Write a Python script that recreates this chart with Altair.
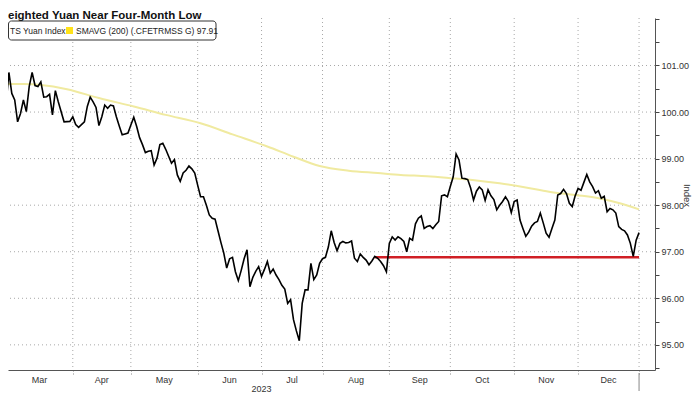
import altair as alt
import pandas as pd

# ---------------- data ----------------
title_text = "eighted Yuan Near Four-Month Low"
legend_line_label = "TS Yuan Index"
legend_sma_label = "SMAVG (200) (.CFETRMSS G) 97.91"

# x = trading-day number (weekdays) counted from 1 Mar 2023
yuan_day = [-2, 0, 1, 2, 3, 4, 5, 6, 7, 8, 9, 10, 11, 12, 13, 14, 15, 16, 17, 18,
            20, 22, 23, 24, 25, 27, 28, 29, 30, 31, 32, 33, 34, 35, 36, 37, 38, 39,
            40, 41, 42, 43, 44, 45, 46, 47, 48, 49, 50, 51, 52, 53, 54, 55, 56, 57,
            58, 59, 60, 61, 62, 63, 64, 65, 66, 67, 68, 69, 70, 71, 72, 73, 74, 75,
            76, 77, 78, 79, 80, 81, 82, 83, 84, 85, 86, 87, 88, 89, 90, 91, 92, 93,
            94, 95, 96, 97, 98, 99, 100, 101, 102, 103, 104, 105, 106, 107, 108,
            109, 110, 111, 112, 113, 114, 115, 116, 117, 118, 119, 120, 121, 122,
            123, 124, 125, 126, 127, 128, 129, 130, 131, 132, 133, 134, 135, 136,
            137, 138, 139, 140, 141, 142, 143, 144, 145, 146, 147, 148, 149, 150,
            151, 152, 153, 154, 155, 156, 157, 158, 159, 160, 161, 162, 163, 164,
            165, 166, 167, 168, 169, 170, 171, 172, 173, 174, 175, 176, 177, 178,
            179, 180, 181, 182, 183, 184, 185, 186, 187, 188, 189, 190, 191, 192,
            193, 194, 195, 196, 197, 198, 199, 200, 201, 202, 203, 204, 205, 206,
            207, 208, 209, 210, 211, 212, 213, 214, 215, 216, 217, 218]
yuan_value = [99.83, 100.15, 100.85, 100.40, 100.26, 99.79, 99.97, 100.26, 100.01, 100.55,
              100.85, 100.57, 100.55, 100.65, 100.32, 100.33, 100.38, 99.94, 100.46, 100.22,
              99.79, 99.80, 99.90, 99.73, 99.67, 99.79, 100.12, 100.32, 100.22, 100.10,
              99.71, 99.90, 100.15, 100.08, 100.15, 100.13, 99.90, 99.70,
              99.51, 99.53, 99.55, 99.72, 99.89, 99.69, 99.45, 99.30, 99.13, 99.16, 99.17,
              98.86, 99.01, 99.30, 99.33, 99.20, 99.05, 98.90,
              98.98, 98.65, 98.51, 98.69, 98.75, 98.84, 98.78, 98.69, 98.43, 98.18, 98.18,
              98.00, 97.79, 97.72, 97.70, 97.45, 97.20, 96.97,
              96.65, 96.85, 96.88, 96.57, 96.38, 96.60, 96.85, 97.04, 96.25, 96.45, 96.58,
              96.68, 96.47, 96.62, 96.79, 96.54, 96.63, 96.50,
              96.40, 96.28, 96.20, 95.89, 95.97, 95.54, 95.30, 95.09, 95.89, 96.18, 96.18,
              96.75, 96.40, 96.50, 96.75,
              96.85, 96.88, 97.10, 97.45, 97.20, 97.02, 97.18, 97.22, 97.19, 97.20, 97.23,
              96.86, 96.79, 96.95,
              96.88, 96.82, 96.72, 96.80, 96.90, 96.86, 96.79, 96.70, 96.57, 97.18, 97.32,
              97.25, 97.32, 97.28,
              97.22, 97.00, 97.29, 97.25, 97.60, 97.72, 97.77, 97.50, 97.54, 97.56, 97.50,
              97.58, 97.65, 98.20,
              98.22, 98.18, 98.40, 98.61, 99.10, 98.97, 98.58, 98.57, 98.55, 98.37, 98.11,
              98.30, 98.39, 98.33,
              98.10, 98.33, 98.20, 98.12, 97.90, 98.00, 98.08, 98.18, 98.08, 97.84, 98.08,
              98.11, 97.68, 97.50,
              97.33, 97.42, 97.55, 97.62, 97.65, 97.83, 97.62, 97.40, 97.31, 97.50, 97.68,
              98.22, 98.25, 98.34,
              98.25, 98.04, 97.97, 98.20, 98.36, 98.32, 98.49, 98.66, 98.50, 98.40, 98.26,
              98.31, 98.15, 98.19,
              97.86, 97.93, 97.90, 97.83, 97.54, 97.48, 97.45, 97.36, 97.18, 96.90, 97.25,
              97.41]

sma_day = [-2, 6, 12, 21, 32, 44, 55, 67, 78, 90, 99, 108, 118, 128, 136, 145, 153,
           162, 170, 179, 187, 196, 205, 212, 218]
sma_value = [100.60, 100.60, 100.58, 100.49, 100.30, 100.12, 99.94, 99.76, 99.52, 99.26,
             99.04, 98.84, 98.74, 98.69, 98.65, 98.62, 98.58, 98.53, 98.47, 98.38, 98.29,
             98.22, 98.14, 98.03, 97.91]

support_day = [127, 218]
support_value = [96.88, 96.88]

month_start_day = [0, 23, 43, 66, 88, 109, 132, 153, 175, 197, 218]
month_labels = ["Mar", "Apr", "May", "Jun", "Jul", "Aug", "Sep", "Oct", "Nov", "Dec"]
year_label = "2023"
year_label_day = 88
year_break_day = 218

y_tick_values = [94.5, 95, 95.5, 96, 96.5, 97, 97.5, 98, 98.5, 99, 99.5, 100, 100.5,
                 101, 101.5, 102]
y_grid_values = [95, 96, 97, 98, 99, 100, 101]

# ---------------- tables ----------------
yuan_df = pd.DataFrame({"day": yuan_day, "value": yuan_value})
sma_df = pd.DataFrame({"day": sma_day, "value": sma_value})
support_df = pd.DataFrame({"day": support_day, "value": support_value})
vgrid_df = pd.DataFrame({"day": month_start_day})
hgrid_df = pd.DataFrame({"value": y_grid_values})
month_df = pd.DataFrame({
    "day": [(a + b) / 2 for a, b in zip(month_start_day[:-1], month_start_day[1:])],
    "label": month_labels,
})
year_df = pd.DataFrame({"day": [year_label_day], "label": [year_label]})
break_df = pd.DataFrame({"day": [year_break_day]})

W, H = 647, 352
FONT = "Liberation Sans"

x_scale = alt.Scale(domain=[0.69, 223.49], nice=False, zero=False)
y_scale = alt.Scale(domain=[94.46, 102.02], nice=False, zero=False)
GRID = "#a8a8a8"

x_axis = alt.Axis(values=month_start_day, labels=False, title=None, grid=False,
                  tickSize=4, tickColor="#888", tickDash=[1, 2],
                  domainColor="#555", domainWidth=1)
y_axis = alt.Axis(orient="right", values=y_tick_values, grid=False,
                  labelExpr="(datum.value == round(datum.value) && datum.value >= 95 && datum.value <= 101) ? format(datum.value, '.2f') : ''",
                  labelFont=FONT, labelFontSize=9, labelColor="#333",
                  tickSize=4, tickColor="#444", labelPadding=2,
                  domainColor="#555", domainWidth=1,
                  title="Index", titleFont=FONT, titleFontSize=9.5,
                  titleFontWeight="normal", titleColor="#333", titleAngle=90,
                  titleX=31, titleY=177, titleAlign="center", titleBaseline="middle")

X = alt.X("day:Q", scale=x_scale, axis=x_axis)
Y = alt.Y("value:Q", scale=y_scale, axis=y_axis)

vgrid = alt.Chart(vgrid_df).mark_rule(color=GRID, strokeDash=[1, 3], strokeWidth=1).encode(x=X)
hgrid = alt.Chart(hgrid_df).mark_rule(color=GRID, strokeDash=[1, 3], strokeWidth=1).encode(y=Y)

sma = alt.Chart(sma_df).mark_line(color="#f0eaa0", strokeWidth=2, clip=True,
                                  interpolate="monotone").encode(x=X, y=Y)
support = alt.Chart(support_df).mark_line(color="#d01f25", strokeWidth=2.5, clip=True).encode(x=X, y=Y)
yuan = alt.Chart(yuan_df).mark_line(color="#000000", strokeWidth=1.6, clip=True).encode(x=X, y=Y)

months = alt.Chart(month_df).mark_text(font=FONT, fontSize=9, color="#333", baseline="middle").encode(
    x=X, y=alt.value(H + 10), text="label:N",
)
year = alt.Chart(year_df).mark_text(font=FONT, fontSize=9, color="#333", baseline="middle").encode(
    x=X, y=alt.value(H + 19), text="label:N",
)
year_break = alt.Chart(break_df).mark_rule(color="#888", strokeWidth=1).encode(
    x=X, y=alt.value(H + 3), y2=alt.value(H + 21),
)

# title and legend box
title = alt.Chart(pd.DataFrame({"t": [title_text]})).mark_text(
    font=FONT, fontSize=11.5, fontWeight="bold", color="#111", align="left", baseline="alphabetic"
).encode(x=alt.value(0), y=alt.value(0.5), text="t:N")

legend_box = alt.Chart(pd.DataFrame({"a": [0]})).mark_rect(
    fill="white", stroke="#333", strokeWidth=1, cornerRadius=3
).encode(x=alt.value(0.5), x2=alt.value(208), y=alt.value(3), y2=alt.value(22))

legend_sq = alt.Chart(pd.DataFrame({"a": [0]})).mark_rect(fill="#ffe21a").encode(
    x=alt.value(58), x2=alt.value(65), y=alt.value(9), y2=alt.value(16)
)
legend_t1 = alt.Chart(pd.DataFrame({"t": [legend_line_label]})).mark_text(
    font=FONT, fontSize=8.5, color="#222", align="left", baseline="middle"
).encode(x=alt.value(2), y=alt.value(12.5), text="t:N")
legend_t2 = alt.Chart(pd.DataFrame({"t": [legend_sma_label]})).mark_text(
    font=FONT, fontSize=8.5, color="#222", align="left", baseline="middle"
).encode(x=alt.value(68), y=alt.value(12.5), text="t:N")

chart = alt.layer(
    vgrid, hgrid, sma, support, yuan, months, year, year_break,
    title, legend_box, legend_sq, legend_t1, legend_t2,
).properties(
    width=W, height=H,
    background="white",
    autosize=alt.AutoSizeParams(type="none"),
    padding={"left": 0, "top": 10, "right": 37, "bottom": 24},
).configure_view(stroke=None)

chart.save("out.html", embed_options={"renderer": "svg", "actions": False})
